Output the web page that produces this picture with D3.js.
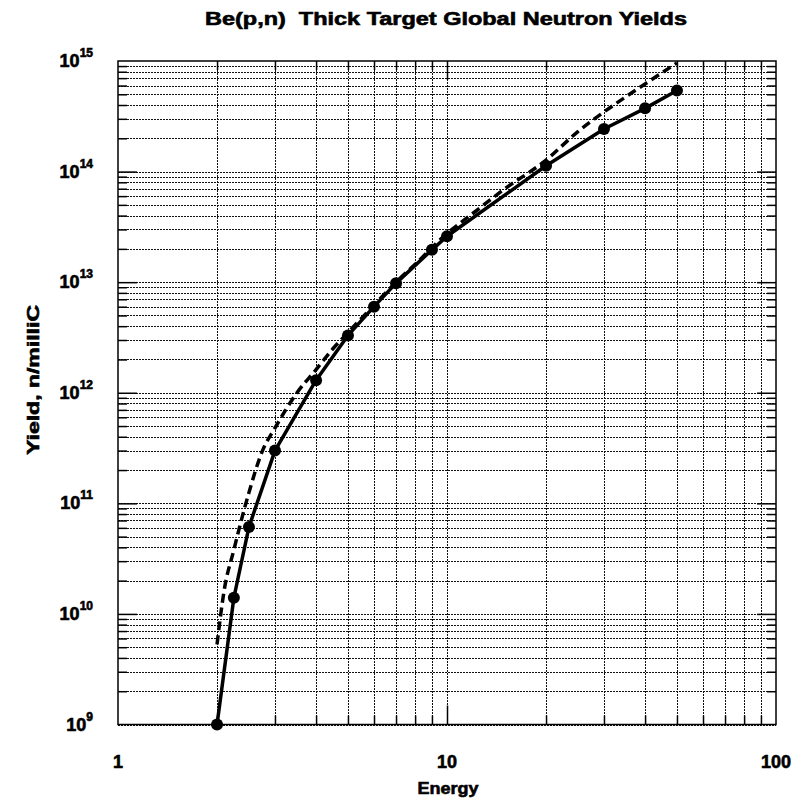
<!DOCTYPE html>
<html>
<head>
<meta charset="utf-8">
<script src="https://cdn.jsdelivr.net/npm/d3@7"></script>
<style>
  body { margin: 0; background: #fff; }
  text { font-family: Arial, "Liberation Sans", Helvetica, sans-serif; font-weight: bold; fill: #000; stroke: #000; stroke-width: 0.6px; }
</style>
</head>
<body>
<svg id="chart" width="798" height="801"></svg>
<script>
// Measured thick-target yields (solid line with markers)
const energyMeasured = [2, 2.25, 2.5, 3, 4, 5, 6, 7, 9, 10, 20, 30, 40, 50];
const yieldMeasured  = [1e9, 1.4e10, 6.1e10, 3.0e11, 1.3e12, 3.3e12, 6.0e12, 9.8e12, 1.96e13, 2.6e13, 1.13e14, 2.43e14, 3.73e14, 5.4e14];

// Calculated yields (dashed curve)
const energyCalc = [2, 2.1, 2.25, 2.5, 2.75, 3, 3.5, 4, 4.5, 5, 6, 7, 8, 10, 12, 15, 20, 25, 30, 40, 50];
const yieldCalc  = [5.3e9, 1.6e10, 3.8e10, 1.25e11, 3.0e11, 4.8e11, 1.0e12, 1.62e12, 2.5e12, 3.5e12, 6.2e12, 1.0e13, 1.45e13, 2.75e13, 4.2e13, 7.0e13, 1.27e14, 2.3e14, 3.46e14, 6.2e14, 9.6e14];

// Axis ticks
const xTickLabels = [1, 10, 100];
const yDecadeExponents = [9, 10, 11, 12, 13, 14, 15];

const titleText = "Be(p,n)  Thick Target Global Neutron Yields";
const xAxisTitle = "Energy";
const yAxisTitle = "Yield, n/milliC";

const svg = d3.select("#chart");
const plot = { left: 118, right: 776, top: 61, bottom: 724.5 };

const x = d3.scaleLog().domain([1, 100]).range([plot.left, plot.right]);
const y = d3.scaleLog().domain([1e9, 1e15]).range([plot.bottom, plot.top]);

// minor/major tick positions
const xMinor = [];
[1, 10].forEach(d => { for (let k = 2; k <= 9; k++) xMinor.push(k * d); });
const xMajor = [10];
const yMinor = [];
yDecadeExponents.slice(0, -1).forEach(e => { for (let k = 2; k <= 9; k++) yMinor.push(k * Math.pow(10, e)); });
const yMajor = yDecadeExponents.slice(1, -1).map(e => Math.pow(10, e));

// grid
const grid = svg.append("g").attr("stroke", "#111").attr("stroke-width", 1)
  .attr("stroke-dasharray", "2,1").attr("shape-rendering", "crispEdges");
grid.selectAll("line.v").data(xMinor.concat(xMajor)).join("line")
  .attr("x1", d => Math.round(x(d)) + 0.5).attr("x2", d => Math.round(x(d)) + 0.5)
  .attr("y1", plot.top).attr("y2", plot.bottom);
grid.selectAll("line.h").data(yMinor.concat(yMajor).concat([1e9])).join("line")
  .attr("y1", d => Math.round(y(d)) + 0.5).attr("y2", d => Math.round(y(d)) + 0.5)
  .attr("x1", plot.left).attr("x2", plot.right);

// inward ticks on all four sides
function ticks(axisFn, scale, vals, size, transform) {
  const g = svg.append("g").attr("transform", transform)
    .call(axisFn(scale).tickValues(vals).tickSize(-size).tickSizeOuter(0).tickFormat(""));
  g.select(".domain").remove();
  g.selectAll(".tick line").attr("stroke", "#000").attr("stroke-width", 1.5);
}
ticks(d3.axisBottom, x, xMinor, 9, `translate(0,${plot.bottom})`);
ticks(d3.axisBottom, x, xMajor, 19, `translate(0,${plot.bottom})`);
ticks(d3.axisTop, x, xMinor, 9, `translate(0,${plot.top})`);
ticks(d3.axisTop, x, xMajor, 19, `translate(0,${plot.top})`);
ticks(d3.axisLeft, y, yMinor, 9, `translate(${plot.left},0)`);
ticks(d3.axisLeft, y, yMajor, 19, `translate(${plot.left},0)`);
ticks(d3.axisRight, y, yMinor, 9, `translate(${plot.right},0)`);
ticks(d3.axisRight, y, yMajor, 19, `translate(${plot.right},0)`);

// frame
svg.append("rect").attr("x", plot.left).attr("y", plot.top)
  .attr("width", plot.right - plot.left).attr("height", plot.bottom - plot.top)
  .attr("fill", "none").attr("stroke", "#000").attr("stroke-width", 1.5);

// calculated curve
const lineCalc = d3.line().x(d => x(d[0])).y(d => y(d[1])).curve(d3.curveMonotoneX);
svg.append("path").datum(energyCalc.map((e, i) => [e, yieldCalc[i]]))
  .attr("d", lineCalc).attr("fill", "none").attr("stroke", "#000")
  .attr("stroke-width", 3.5).attr("stroke-dasharray", "9,5");

// measured line + markers
const measured = energyMeasured.map((e, i) => [e, yieldMeasured[i]]);
const lineMeas = d3.line().x(d => x(d[0])).y(d => y(d[1]));
svg.append("path").datum(measured).attr("d", lineMeas)
  .attr("fill", "none").attr("stroke", "#000").attr("stroke-width", 3.5).attr("stroke-linejoin", "round");
svg.append("g").selectAll("circle").data(measured).join("circle")
  .attr("cx", d => x(d[0])).attr("cy", d => y(d[1])).attr("r", 6).attr("fill", "#000");

// y tick labels: 10 with superscript exponent
const yl = svg.append("g");
yDecadeExponents.forEach(e => {
  const t = yl.append("text").attr("x", 93).attr("y", y(Math.pow(10, e)) + 6)
    .attr("text-anchor", "end").attr("font-size", 18);
  t.append("tspan").text("10");
  t.append("tspan").attr("font-size", 12).attr("dy", -10).text(e);
});

// x tick labels
svg.append("g").selectAll("text").data(xTickLabels).join("text")
  .attr("x", d => x(d)).attr("y", 768).attr("text-anchor", "middle")
  .attr("font-size", 18).text(d => d);

// titles
svg.append("text").attr("x", 446).attr("y", 25).attr("text-anchor", "middle")
  .attr("font-size", 18).attr("textLength", 482).attr("lengthAdjust", "spacingAndGlyphs")
  .attr("xml:space", "preserve").style("white-space", "pre").text(titleText);
svg.append("text").attr("x", 448).attr("y", 794).attr("text-anchor", "middle")
  .attr("font-size", 16).attr("textLength", 61).attr("lengthAdjust", "spacingAndGlyphs").text(xAxisTitle);
svg.append("text").attr("transform", "translate(38.5,380) rotate(-90)").attr("text-anchor", "middle")
  .attr("font-size", 16).attr("textLength", 150).attr("lengthAdjust", "spacingAndGlyphs").text(yAxisTitle);
</script>
</body>
</html>
